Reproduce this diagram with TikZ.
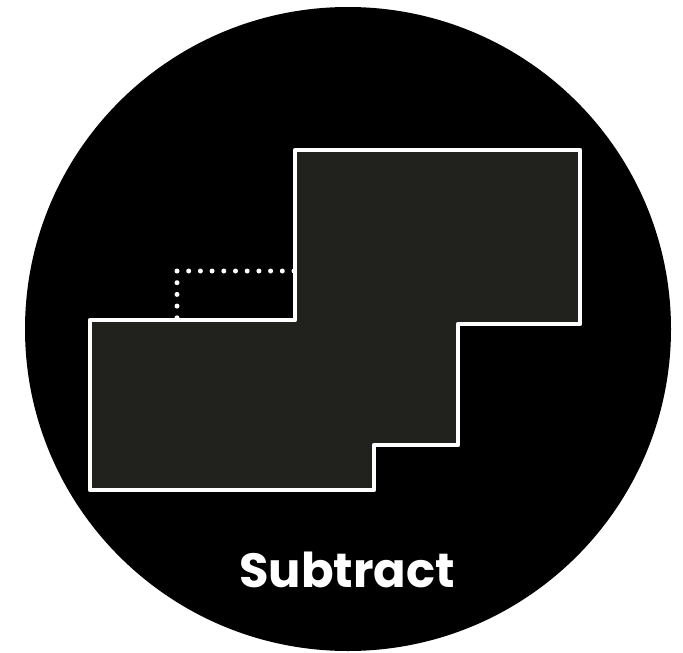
\documentclass[tikz,border=0pt]{standalone}
\usepackage{fontspec}
\newfontfamily\labelfont{Poppins}[UprightFont=* Bold]
\definecolor{shapefill}{RGB}{33,33,29}
\begin{document}
\begin{tikzpicture}[x=1pt,y=-1pt,
  outline/.style={draw=white,line width=4.5pt,fill=shapefill,line join=round},
  dotline/.style={draw=white,line width=5pt,line cap=round,dash pattern=on 0pt off 11.7pt},
  labeltext/.style={text=white,font=\labelfont\fontsize{48}{58}\selectfont,anchor=base}]
\useasboundingbox (0,0) rectangle (683,653);
\fill[white] (0,0) rectangle (683,653);
\fill[black] (348,329) ellipse [x radius=323, y radius=322];
\draw[outline] (295,150) -- (580,150) -- (580,324) -- (458,324) -- (458,445) -- (374,445) -- (374,490) -- (90,490) -- (90,320) -- (295,320) -- cycle;
\coordinate (d1) at (177,320);
\coordinate (d2) at (177,271);
\coordinate (d3) at (294,271);
\draw[dotline] (d3) -- (d2) -- (d1);
\node[labeltext] (lbl) at (347,587) {Subtract};
\end{tikzpicture}
\end{document}
